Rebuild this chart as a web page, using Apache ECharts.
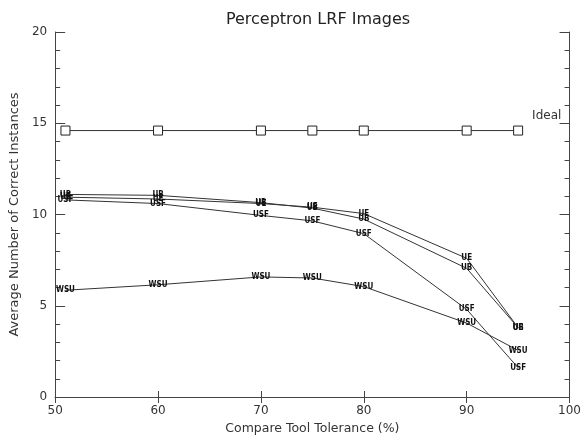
<!DOCTYPE html>
<html>
<head>
<meta charset="utf-8">
<script src="https://cdn.jsdelivr.net/npm/echarts@6/dist/echarts.min.js"></script>
<style>
  html, body { margin: 0; padding: 0; background: #fff; }
  #chart { width: 584px; height: 440px; }
</style>
</head>
<body>
<div id="chart"></div>
<script>
var tolerance = [51, 60, 70, 75, 80, 90, 95];
var ideal = [14.6, 14.6, 14.6, 14.6, 14.6, 14.6, 14.6];
var ub = [11.1, 11.05, 10.65, 10.35, 9.75, 7.05, 3.8];
var ue = [10.95, 10.85, 10.6, 10.4, 10.05, 7.6, 3.8];
var usf = [10.8, 10.6, 9.95, 9.65, 8.95, 4.8, 1.6];
var wsu = [5.85, 6.15, 6.58, 6.52, 6.05, 4.05, 2.55];

var lineColor = '#333';
var font = 'DejaVu Sans';

function pairs(vals) {
	return tolerance.map(function(x, i) { return [x, vals[i]]; });
}

function textSeries(name, vals) {
	return {
		type : 'line',
		name : name,
		data : pairs(vals),
		symbol : 'circle',
		symbolSize : 1,
		itemStyle : { color : 'rgba(0,0,0,0)' },
		lineStyle : { color : lineColor, width : 1 },
		label : {
			show : true,
			position : 'inside',
			formatter : name,
			fontSize : 8,
			fontWeight : 'bold',
			fontFamily : 'DejaVu Sans Condensed',
			color : '#111'
		},
		z : 3
	};
}

var chart = echarts.init(document.getElementById('chart'));
var option = {
	animation : false,
	title : {
		text : 'Perceptron LRF Images',
		left : 313,
		textAlign : 'center',
		top : 7,
		textStyle : { fontSize : 16, fontWeight : 'normal', color : '#222', fontFamily : font }
	},
	grid : { left : 55, right : 9, top : 32, bottom : 38 },
	xAxis : [ {
		type : 'value',
		min : 50,
		max : 100,
		interval : 10,
		name : 'Compare Tool Tolerance (%)',
		nameLocation : 'middle',
		nameGap : 25,
		nameTextStyle : { fontSize : 12.5, color : '#333', fontFamily : font },
		axisLine : { lineStyle : { color : '#444' } },
		axisTick : { inside : true, length : 6, lineStyle : { color : '#444' } },
		axisLabel : { fontSize : 12, color : '#333', fontFamily : font, margin : 8 },
		splitLine : { show : false }
	}, {
		type : 'value',
		position : 'top',
		min : 50,
		max : 100,
		interval : 10,
		axisLine : { show : true, lineStyle : { color : '#444' } },
		axisTick : { inside : true, length : 6, lineStyle : { color : '#444' } },
		axisLabel : { show : false },
		splitLine : { show : false }
	} ],
	yAxis : [ {
		type : 'value',
		min : 0,
		max : 20,
		interval : 5,
		name : 'Average Number of Correct Instances',
		nameLocation : 'middle',
		nameGap : 30,
		nameTextStyle : { fontSize : 13, color : '#333', fontFamily : font },
		axisLine : { show : true, lineStyle : { color : '#444' } },
		axisTick : { inside : true, length : 10, lineStyle : { color : '#444' } },
		minorTick : { show : true, splitNumber : 5, length : 5, lineStyle : { color : '#444' } },
		axisLabel : { fontSize : 12, color : '#333', fontFamily : font, margin : 8 },
		splitLine : { show : false }
	}, {
		type : 'value',
		position : 'right',
		min : 0,
		max : 20,
		interval : 5,
		axisLine : { show : true, lineStyle : { color : '#444' } },
		axisTick : { inside : true, length : 10, lineStyle : { color : '#444' } },
		minorTick : { show : true, splitNumber : 5, length : 5, lineStyle : { color : '#444' } },
		axisLabel : { show : false },
		splitLine : { show : false }
	} ],
	series : [ {
		type : 'line',
		name : 'Ideal',
		data : pairs(ideal),
		symbol : 'rect',
		symbolSize : 9,
		itemStyle : { color : '#fff', borderColor : '#222', borderWidth : 1 },
		lineStyle : { color : lineColor, width : 1 },
		endLabel : {
			show : true,
			formatter : 'Ideal',
			offset : [ 6, -15 ],
			fontSize : 12,
			color : '#333',
			fontFamily : font
		}
	},
		textSeries('UB', ub),
		textSeries('UE', ue),
		textSeries('USF', usf),
		textSeries('WSU', wsu)
	]
};
chart.setOption(option);

window.onresize = function() {
	chart.resize();
}
</script>
</body>
</html>
